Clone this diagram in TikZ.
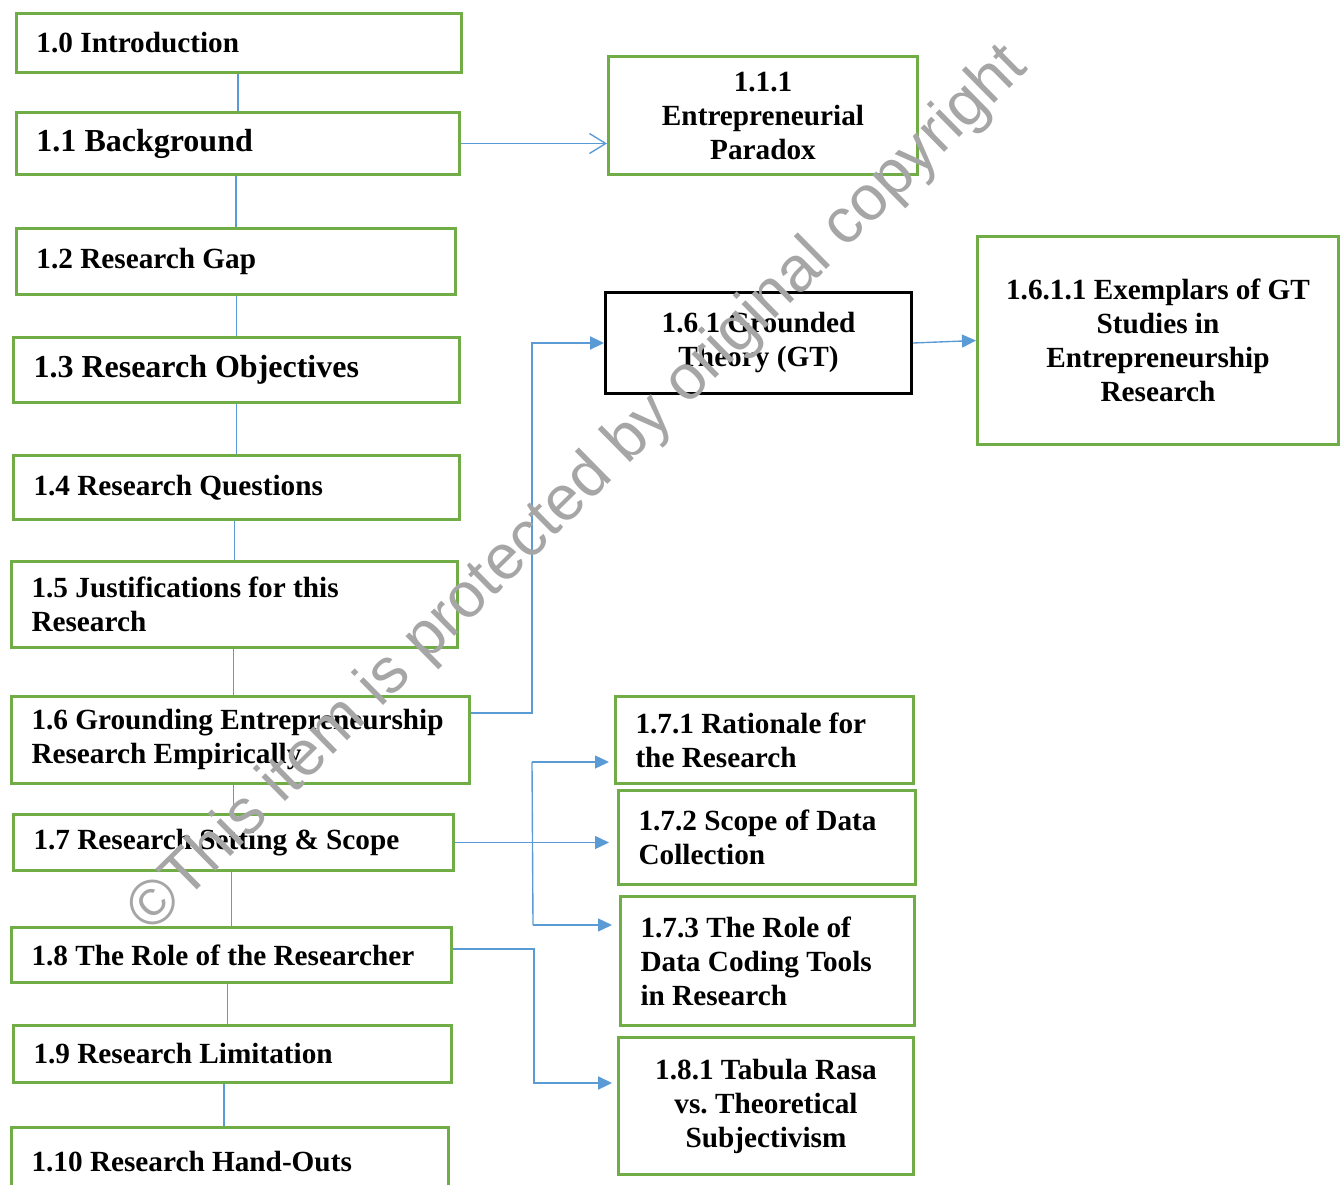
\documentclass[tikz,border=0pt]{standalone}
\usepackage{fontspec}
\setmainfont{Liberation Serif}
\newfontfamily\wmfont{Liberation Sans}
\usetikzlibrary{positioning, arrows.meta, calc}
\definecolor{boxgreen}{HTML}{70AD47}
\definecolor{linkblue}{HTML}{5B9BD5}
\definecolor{wmgray}{HTML}{A6A6A6}
\newcommand{\pxu}{0.4pt}
\frenchspacing

\begin{document}
\begin{tikzpicture}[
  x=\pxu, y=-\pxu,
  every node/.style={font=\bfseries\fontsize{11.7}{13.6}\selectfont},
  big/.style={font=\bfseries\fontsize{12.8}{14.6}\selectfont},
  sec/.style={
    draw=boxgreen, line width=1.2pt, anchor=north west,
    align=flush left, inner xsep=20*\pxu, inner ysep=0pt
  },
  sub/.style={sec, align=flush center},
  theory/.style={sub, draw=black},
  box/.style 2 args={minimum width=#1*\pxu, minimum height=#2*\pxu, text width=(#1-40)*\pxu},
  link/.style={linkblue, line width=0.55pt},
  thinarrow/.style={link, -{Triangle[length=5.6pt, width=5.2pt]}},
  thickarrow/.style={linkblue, line width=0.9pt, -{Triangle[length=5.6pt, width=5.2pt]}},
  openarrow/.style={link, -{Straight Barb[length=6.5pt, width=8pt]}}
]
  \useasboundingbox (0,0) rectangle (1340,1185);

  % chapter outline, left column
  \node[sec, box={445}{59}] (intro) at (15,12) {1.0 Introduction};
  \node[sec, big, box={443}{62}] (bg) at (15,111) {1.1 Background};
  \node[sec, box={439}{66}] (gap) at (15,227) {1.2 Research Gap};
  \node[sec, big, box={446}{65}] (obj) at (12,336) {1.3 Research Objectives};
  \node[sec, box={446}{64}] (rq) at (12,454) {1.4 Research Questions};
  \node[sec, box={446}{86}] (just) at (10,560) {1.5 Justifications for this\\Research};
  \node[sec, box={458}{87}] (grd) at (10,695) {1.6 Grounding Entrepreneurship\\Research Empirically};
  \node[sec, box={440}{56}] (setting) at (12,813) {1.7 Research Setting \& Scope};
  \node[sec, box={440}{55}] (role) at (10,926) {1.8 The Role of the Researcher};
  \node[sec, box={438}{57}] (limit) at (12,1024) {1.9 Research Limitation};
  \node[sec, box={437}{69}] (handout) at (10,1126) {1.10 Research Hand-Outs};

  % subsections
  \node[sub, box={309}{118}] (paradox) at (607,55) {1.1.1\\Entrepreneurial\\Paradox};
  \node[theory, box={306}{101}] (gt) at (604,291) {1.6.1 Grounded\\Theory (GT)};
  \node[sub, box={361}{208}] (exemplar) at (976,235) {1.6.1.1 Exemplars of GT\\Studies in\\Entrepreneurship\\Research};
  \node[sec, box={298}{87}] (rationale) at (614,695) {1.7.1 Rationale for\\the Research};
  \node[sec, box={297}{94}] (scope) at (617,789) {1.7.2 Scope of Data\\Collection};
  \node[sec, box={294}{129}] (coding) at (619,895) {1.7.3 The Role of\\Data Coding Tools\\in Research};
  \node[sub, box={295}{137}] (tabula) at (617,1036) {1.8.1 Tabula Rasa\\vs. Theoretical\\Subjectivism};

  % spine
  \draw[link] (bg.north) -- (bg.north |- intro.south);
  \draw[link] (gap.north) -- (gap.north |- bg.south);
  \draw[link] (obj.north) -- (obj.north |- gap.south);
  \draw[link] (rq.north) -- (rq.north |- obj.south);
  \draw[link] (just.north) -- (just.north |- rq.south);
  \draw[link] ([xshift=-7*\pxu]grd.north) -- ([xshift=-7*\pxu]grd.north |- just.south);
  \draw[link] (setting.north) -- (setting.north |- grd.south);
  \draw[link] (role.north) -- (role.north |- setting.south);
  \draw[link] ([xshift=-5*\pxu]limit.north) -- ([xshift=-5*\pxu]limit.north |- role.south);
  \draw[link] ([xshift=-6*\pxu]handout.north) -- ([xshift=-6*\pxu]handout.north |- limit.south);

  % branches
  \draw[openarrow] (bg.east) -- (bg.east -| paradox.west);
  \draw[thickarrow] ([yshift=27*\pxu]grd.east) -- ++(61,0) |- (gt.west);
  \draw[thinarrow] (gt.east) -- (exemplar.west);

  \coordinate (forktop) at (532,762);
  \coordinate (forkbot) at (533,925);
  \draw[link] (forktop) -- (forkbot);
  \draw[thinarrow, shorten >=5*\pxu] (forktop) -- (forktop -| rationale.west);
  \draw[thinarrow, shorten >=8*\pxu] (setting.east) -- (setting.east -| scope.west);
  \draw[thinarrow, shorten >=7*\pxu] (forkbot) -- (forkbot -| coding.west);
  \draw[thickarrow, shorten >=5*\pxu] ([yshift=6*\pxu]role.east) -- ++(81,0) |- ([yshift=23*\pxu]tabula.west);

  % watermark
  \node[text=wmgray, rotate=44.6, inner sep=0pt,
    font=\wmfont\fontsize{25.4}{30}\selectfont] (mark) at (579,490)
    {\textcopyright This item is protected by original copyright};
\end{tikzpicture}
\end{document}
